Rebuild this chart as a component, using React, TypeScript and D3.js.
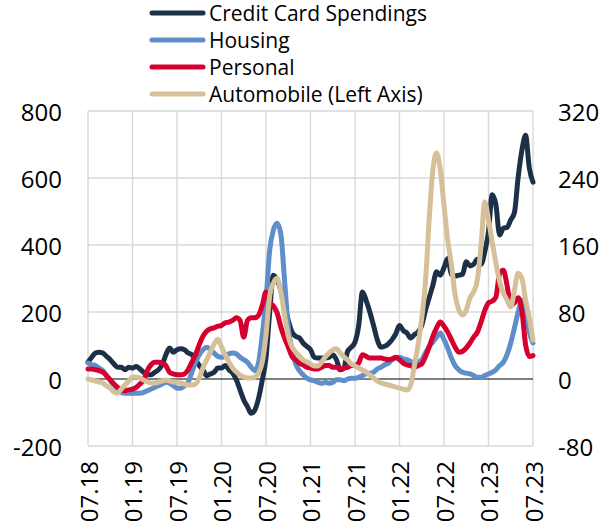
import React from 'react';
import * as d3 from 'd3';

// half-month periods, 07.18 .. 07.23 (121 points)
const tickLabels = ['07.18', '01.19', '07.19', '01.20', '07.20', '01.21', '07.21', '01.22', '07.22', '01.23', '07.23'];
const leftTicks = [-200, 0, 200, 400, 600, 800];
const rightTicks = [-80, 0, 80, 160, 240, 320];

// right axis
const creditCard = [
  20, 26, 31, 32, 31, 27, 23, 18, 14, 14,
  11, 14, 13, 15, 12, 8, 5, 5, 8, 11,
  17, 29, 37, 32, 35, 36, 35, 31, 29, 23,
  16, 11, 4, 6, 8, 13, 13, 16, 11, 7,
  -1, -13, -25, -33, -41, -37, -23, -1, 25, 80,
  124, 118, 106, 88, 70, 56, 51, 49, 43, 39,
  35, 26, 25, 25, 25, 26, 29, 23, 11, 13,
  33, 38, 44, 64, 104, 94, 80, 64, 47, 38,
  39, 42, 47, 54, 64, 58, 55, 49, 53, 56,
  64, 82, 97, 112, 128, 124, 133, 144, 125, 123,
  124, 125, 140, 135, 137, 143, 137, 152, 176, 220,
  208, 172, 180, 181, 190, 199, 241, 273, 291, 252, 235,
];

// right axis
const housing = [
  19, 17, 16, 13, 10, 4, -2, -7, -12, -16,
  -17, -17, -17, -17, -17, -16, -14, -12, -10, -8,
  -6, -4, -5, -8, -11, -11, -8, -4, 8, 20,
  29, 35, 38, 35, 31, 27, 26, 27, 30, 31,
  30, 26, 23, 20, 14, 10, 20, 53, 94, 154,
  178, 186, 173, 118, 62, 35, 18, 10, 5, 1,
  -1, -2, -4, -5, -4, -5, -4, -1, -1, -2,
  0, 1, 1, 2, 4, 6, 7, 8, 12, 14,
  17, 19, 23, 25, 26, 24, 23, 21, 19, 20,
  23, 31, 39, 44, 50, 55, 47, 37, 25, 16,
  11, 8, 7, 6, 4, 2, 2, 4, 6, 8,
  11, 16, 20, 29, 43, 61, 80, 94, 82, 56, 43,
];

// right axis
const personal = [
  12, 12, 11, 10, 8, 4, -1, -6, -10, -13,
  -14, -13, -12, -10, -6, -1, 10, 17, 20, 20,
  19, 16, 8, 6, 5, 5, 6, 11, 20, 29,
  41, 51, 57, 60, 61, 63, 64, 67, 68, 70,
  73, 70, 50, 70, 73, 73, 76, 88, 104, 92,
  87, 79, 62, 49, 38, 27, 23, 19, 17, 14,
  13, 12, 12, 14, 16, 16, 14, 14, 12, 13,
  14, 16, 16, 19, 29, 27, 25, 25, 25, 25,
  24, 23, 24, 26, 23, 19, 17, 16, 14, 16,
  18, 27, 38, 51, 61, 68, 63, 56, 47, 38,
  32, 33, 37, 43, 50, 56, 68, 82, 91, 93,
  98, 126, 130, 112, 88, 91, 97, 82, 41, 27, 28,
];

// left axis
const automobile = [
  0, -3, -6, -9, -12, -21, -27, -39, -42, -30,
  -18, -6, 6, 6, 3, -3, -9, -12, -12, -9,
  -6, -3, -6, -9, -9, -12, -15, -18, -18, -15,
  3, 33, 57, 81, 104, 119, 96, 72, 51, 33,
  21, 12, 6, 3, 3, 6, 18, 51, 131, 248,
  287, 301, 260, 191, 128, 96, 81, 69, 57, 51,
  45, 39, 39, 51, 66, 78, 87, 90, 78, 66,
  57, 45, 39, 33, 27, 21, 12, 3, -6, -12,
  -15, -18, -21, -24, -27, -30, -33, -18, 39, 101,
  182, 290, 475, 624, 675, 624, 519, 415, 340, 251,
  206, 191, 206, 242, 260, 296, 400, 528, 475, 409,
  346, 290, 257, 236, 215, 266, 316, 301, 236, 182, 116,
];

const seriesNames = ['Credit Card Spendings', 'Housing', 'Personal', 'Automobile (Left Axis)'];
const seriesColors = ['#1c3148', '#5f8fca', '#d5002f', '#d6c09a'];

const W = 612;
const H = 526;
const plot = { left: 88, right: 533, top: 111, bottom: 446 };
const font = "'Open Sans', 'Noto Sans', sans-serif";

const App: React.FC = () => {
  const x = d3.scaleLinear().domain([0, 120]).range([plot.left, plot.right]);
  const yLeft = d3.scaleLinear().domain([-200, 800]).range([plot.bottom, plot.top]);
  const yRight = d3.scaleLinear().domain([-80, 320]).range([plot.bottom, plot.top]);

  const lineRight = d3
    .line<number>()
    .x((_, i) => x(i))
    .y((d) => yRight(d))
    .curve(d3.curveMonotoneX);
  const lineLeft = d3
    .line<number>()
    .x((_, i) => x(i))
    .y((d) => yLeft(d))
    .curve(d3.curveMonotoneX);

  const paths = [
    lineRight(creditCard),
    lineRight(housing),
    lineRight(personal),
    lineLeft(automobile),
  ];

  return (
    <div style={{ position: 'absolute', left: 0, top: 0 }}>
      <svg width={W} height={H} style={{ display: 'block', background: '#fff' }} fontFamily={font}>
        {/* grid */}
        {leftTicks
          .filter((t) => t !== 0)
          .map((t) => (
            <line key={'h' + t} x1={plot.left} x2={plot.right} y1={yLeft(t)} y2={yLeft(t)} stroke="#d9d9d9" strokeWidth={1.4} />
          ))}
        {tickLabels.map((lab, i) => (
          <line key={'v' + lab} x1={x(i * 12)} x2={x(i * 12)} y1={plot.top} y2={plot.bottom} stroke="#d9d9d9" strokeWidth={1.4} />
        ))}
        <line x1={plot.left} x2={plot.right} y1={yLeft(0)} y2={yLeft(0)} stroke="#000" strokeWidth={1} />

        {/* series */}
        {paths.map((p, i) => (
          <path key={seriesNames[i]} d={p || ''} fill="none" stroke={seriesColors[i]} strokeWidth={5} strokeLinejoin="round" strokeLinecap="round" />
        ))}

        {/* left axis labels */}
        {leftTicks.map((t) => (
          <text key={'l' + t} x={62} y={yLeft(t)} textAnchor="end" dominantBaseline="central" fontSize={24} fill="#000">
            {t}
          </text>
        ))}
        {/* right axis labels */}
        {rightTicks.map((t) => (
          <text key={'r' + t} x={558} y={yRight(t)} textAnchor="start" dominantBaseline="central" fontSize={24} fill="#000">
            {t}
          </text>
        ))}
        {/* x labels */}
        {tickLabels.map((lab, i) => (
          <text
            key={'x' + lab}
            transform={`translate(${x(i * 12)},461) rotate(-90)`}
            textAnchor="end"
            dominantBaseline="central"
            fontSize={24}
            fill="#000"
          >
            {lab}
          </text>
        ))}

        {/* legend */}
        {seriesNames.map((name, i) => (
          <g key={'lg' + name} transform={`translate(150,${13 + i * 27})`}>
            <line x1={2} x2={53} y1={0} y2={0} stroke={seriesColors[i]} strokeWidth={5} strokeLinecap="round" />
            <text x={59} y={0} dominantBaseline="central" fontSize={21} fill="#000">
              {name}
            </text>
          </g>
        ))}
      </svg>
    </div>
  );
};

export default App;
